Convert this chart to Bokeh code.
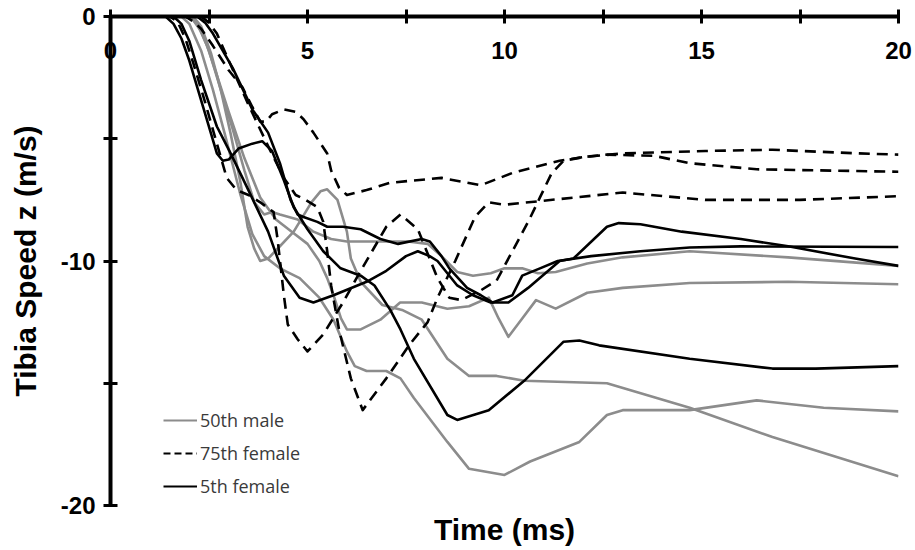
from bokeh.plotting import figure
from bokeh.models import Range1d, FixedTicker, Legend, LegendItem, Title
from bokeh.embed import file_html
from bokeh.resources import INLINE

# ---- 50th male (grey solid) ----
t_m50_a = [0, 1.9, 2.1, 2.3, 2.5, 2.8, 3.1, 3.4, 3.65, 3.9, 4.1, 4.3, 4.75, 5.15, 5.6, 6.0, 6.85, 7.55, 8.05, 8.4, 8.8, 9.2, 9.65, 10.0, 10.45, 10.85, 11.3, 12.1, 13.0, 14.7, 17.2, 20]
v_m50_a = [0, 0, -0.15, -0.6, -1.4, -3.0, -4.6, -6.3, -7.6, -8.1, -8.0, -8.1, -8.3, -8.8, -9.1, -9.2, -9.2, -9.2, -9.3, -9.8, -10.45, -10.6, -10.5, -10.3, -10.3, -10.5, -10.45, -10.1, -9.85, -9.6, -9.85, -10.2]

t_m50_b = [0, 2.0, 2.2, 2.45, 2.7, 3.0, 3.4, 3.8, 4.2, 4.6, 5.0, 5.3, 5.5, 5.66, 5.85, 6.0, 6.35, 6.85, 7.35, 7.9, 8.55, 9.1, 9.6, 9.85, 10.1, 10.45, 10.8, 11.3, 12.1, 13.0, 14.7, 17.2, 20]
v_m50_b = [0, 0, -0.3, -1.2, -2.4, -3.9, -5.8, -7.4, -8.3, -8.8, -9.3, -10.0, -10.7, -11.4, -12.35, -12.8, -12.8, -12.4, -11.7, -11.7, -11.95, -11.85, -11.5, -12.35, -13.1, -12.35, -11.6, -11.95, -11.3, -11.1, -10.9, -10.85, -10.95]

t_m50_c = [0, 1.8, 2.0, 2.3, 2.6, 2.9, 3.3, 3.6, 3.9, 4.3, 4.8, 5.3, 5.66, 6.0, 6.2, 6.5, 7.0, 7.36, 7.7, 8.55, 9.1, 10.0, 10.65, 11.9, 12.6, 13.0, 14.7, 16.4, 18.1, 20]
v_m50_c = [0, 0, -0.3, -1.4, -3.0, -4.8, -7.3, -8.9, -9.8, -10.3, -10.7, -11.5, -12.4, -13.7, -14.3, -14.5, -14.5, -14.8, -15.6, -17.4, -18.5, -18.75, -18.2, -17.4, -16.3, -16.1, -16.1, -15.7, -16.0, -16.15]

t_m50_d = [0, 2.1, 2.3, 2.55, 2.8, 3.05, 3.3, 3.48, 3.65, 3.8, 4.0, 4.24, 4.65, 5.1, 5.33, 5.5, 5.76, 6.0, 6.1, 6.35, 6.9, 7.4, 7.9, 8.55, 9.1, 9.8, 10.5, 12.6, 14.7, 16.8, 20]
v_m50_d = [0, 0, -0.4, -1.5, -3.0, -4.8, -6.8, -8.6, -9.5, -10.0, -9.9, -9.5, -8.8, -7.6, -7.15, -7.07, -7.5, -8.8, -9.9, -10.85, -11.8, -12.0, -12.4, -14.0, -14.7, -14.7, -14.9, -15.0, -16.0, -17.2, -18.8]

# ---- 75th female (black dashed) ----
t_f75_a = [0, 1.9, 2.1, 2.3, 2.6, 3.0, 3.35, 3.6, 3.8, 3.95, 4.1, 4.4, 4.7, 4.9, 5.15, 5.5, 5.6, 5.8, 6.0, 6.5, 7.1, 8.4, 9.4, 10.2, 11.4, 12.0, 13.0, 15.1, 16.8, 19.0, 20]
v_f75_a = [0, 0, -0.2, -0.5, -1.2, -2.2, -2.9, -3.7, -4.3, -4.3, -4.0, -3.8, -3.9, -4.2, -4.75, -5.6, -6.3, -7.0, -7.3, -7.1, -6.8, -6.6, -6.9, -6.4, -5.9, -5.75, -5.6, -5.5, -5.45, -5.6, -5.65]

t_f75_b = [0, 1.5, 1.7, 1.9, 2.1, 2.4, 2.7, 2.95, 3.2, 3.5, 3.8, 4.14, 4.24, 4.4, 4.5, 4.75, 5.0, 5.4, 5.9, 6.35, 7.0, 7.36, 7.8, 8.3, 8.6, 8.9, 9.4, 9.8, 10.2, 10.6, 10.9, 11.2, 11.5, 12.0, 12.6, 13.8, 14.7, 16.4, 20]
v_f75_b = [0, 0, -0.2, -0.9, -1.9, -3.5, -5.2, -6.6, -7.1, -7.3, -7.6, -8.0, -9.1, -11.4, -12.6, -13.2, -13.7, -13.0, -11.7, -10.4, -8.6, -8.1, -8.7, -10.7, -11.5, -11.6, -11.2, -10.8, -9.6, -8.4, -7.4, -6.4, -5.9, -5.75, -5.65, -5.7, -6.0, -6.25, -6.35]

t_f75_c = [0, 2.3, 2.5, 2.7, 3.0, 3.5, 4.0, 4.4, 4.7, 4.95, 5.25, 5.4, 5.5, 5.6, 5.8, 6.1, 6.4, 7.0, 7.6, 8.05, 8.3, 8.75, 9.25, 9.6, 10.0, 10.9, 13.0, 15.1, 17.5, 20]
v_f75_c = [0, 0, -0.25, -0.7, -1.8, -3.6, -5.3, -6.6, -7.3, -7.5, -7.8, -8.4, -9.6, -11.0, -12.8, -14.8, -16.1, -14.8, -13.4, -12.5, -11.5, -10.0, -8.2, -7.6, -7.7, -7.55, -7.2, -7.5, -7.5, -7.35]

# ---- 5th female (black solid) ----
t_f5_a = [0, 1.4, 1.6, 1.8, 2.0, 2.35, 2.7, 2.85, 3.0, 3.25, 3.6, 3.85, 4.1, 4.4, 4.65, 5.0, 5.4, 5.84, 6.35, 6.7, 7.1, 7.36, 7.7, 8.55, 8.8, 9.6, 10.5, 11.5, 11.9, 12.4, 14.7, 16.8, 17.9, 20]
v_f5_a = [0, 0, -0.3, -0.9, -1.8, -3.7, -5.6, -5.9, -5.85, -5.4, -5.2, -5.1, -5.5, -6.7, -7.8, -8.7, -9.6, -10.3, -10.6, -11.0, -12.0, -12.8, -14.0, -16.3, -16.5, -16.1, -14.9, -13.3, -13.25, -13.45, -14.0, -14.4, -14.4, -14.3]

t_f5_b = [0, 1.6, 1.8, 2.0, 2.3, 2.7, 3.05, 3.5, 4.0, 4.4, 4.8, 5.15, 5.66, 6.5, 7.0, 7.5, 7.8, 8.1, 8.3, 8.8, 9.2, 9.65, 10.1, 10.6, 11.4, 11.75, 12.6, 12.9, 13.45, 14.5, 16.0, 17.2, 18.9, 20]
v_f5_b = [0, 0, -0.3, -1.0, -2.6, -4.5, -5.6, -7.1, -8.8, -10.6, -11.5, -11.7, -11.4, -10.85, -10.4, -9.8, -9.6, -9.8, -10.0, -11.0, -11.4, -11.7, -11.7, -11.1, -10.0, -9.9, -8.6, -8.45, -8.5, -8.8, -9.1, -9.4, -9.9, -10.2]

t_f5_c = [0, 2.2, 2.4, 2.6, 3.1, 3.6, 4.0, 4.3, 4.57, 4.75, 4.9, 5.25, 5.5, 5.9, 6.35, 6.85, 7.3, 7.9, 8.1, 8.4, 8.6, 9.05, 9.4, 9.7, 10.2, 10.45, 10.9, 11.35, 12.2, 13.45, 14.7, 16.0, 20]
v_f5_c = [0, 0, -0.25, -0.7, -2.1, -3.8, -4.75, -6.0, -7.5, -8.1, -8.2, -8.4, -8.6, -8.6, -8.7, -9.1, -9.3, -9.1, -9.2, -9.8, -10.3, -11.1, -11.4, -11.7, -11.4, -10.6, -10.3, -10.0, -9.8, -9.6, -9.45, -9.4, -9.43]

# axis ticks and labels
x_ticks = [0, 2.5, 5, 7.5, 10, 12.5, 15, 17.5, 20]
x_tick_labels = {0: "0", 2.5: "", 5: "5", 7.5: "", 10: "10", 12.5: "", 15: "15", 17.5: "", 20: "20"}
y_ticks = [0, -5, -10, -15, -20]
y_tick_labels = {0: "0", -5: "", -10: "-10", -15: "", -20: "-20"}

series_labels = ["50th male", "75th female", "5th female"]

GREY = "#8c8c8c"
BLACK = "#000000"
LW = 2.6
DASH = "11 7"
NAN = float("nan")

p = figure(width=915, height=550, output_backend="svg", toolbar_location=None,
           x_range=Range1d(0, 20), y_range=Range1d(-20, 0), title=None,
           x_axis_location="above",
           min_border_left=110, min_border_right=17, min_border_top=16, min_border_bottom=42)
p.background_fill_color = "white"
p.border_fill_color = "white"
p.outline_line_color = None
p.grid.visible = False

male = [(t_m50_a, v_m50_a), (t_m50_b, v_m50_b), (t_m50_c, v_m50_c), (t_m50_d, v_m50_d)]
dashed = [(t_f75_a, v_f75_a), (t_f75_b, v_f75_b), (t_f75_c, v_f75_c)]
small = [(t_f5_a, v_f5_a), (t_f5_b, v_f5_b), (t_f5_c, v_f5_c)]

for t, v in male:
    p.line(t, v, line_color=GREY, line_width=LW, line_join="round")
for t, v in dashed:
    p.line(t, v, line_color=BLACK, line_width=LW, line_dash=DASH, line_join="round")
for t, v in small:
    p.line(t, v, line_color=BLACK, line_width=LW, line_join="round")

# legend key lines (nothing drawn in the plot area)
lg_m = p.line([NAN], [NAN], line_color=GREY, line_width=2)
lg_d = p.line([NAN], [NAN], line_color=BLACK, line_width=2, line_dash="7 4")
lg_s = p.line([NAN], [NAN], line_color=BLACK, line_width=2)

legend = Legend(items=[LegendItem(label=series_labels[0], renderers=[lg_m]),
                       LegendItem(label=series_labels[1], renderers=[lg_d]),
                       LegendItem(label=series_labels[2], renderers=[lg_s])],
                location=(53, 7), orientation="vertical",
                glyph_width=34, glyph_height=20, label_height=20, spacing=9,
                padding=0, margin=0, label_standoff=3,
                label_text_font="Open Sans", label_text_font_size="18px",
                label_text_color="#3a3a3a",
                background_fill_alpha=0, border_line_color=None)
p.add_layout(legend, "center")

# x axis along the top (y = 0), labels hang below the line
xa = p.xaxis[0]
xa.ticker = FixedTicker(ticks=x_ticks)
xa.major_label_overrides = x_tick_labels
xa.minor_tick_line_color = None
xa.axis_line_width = 4
xa.major_tick_line_width = 3
xa.major_tick_in = 7
xa.major_tick_out = 7
xa.major_label_standoff = -49
xa.major_label_text_font = "Liberation Sans"
xa.major_label_text_font_style = "bold"
xa.major_label_text_font_size = "24px"
xa.major_label_text_color = "black"

ya = p.yaxis[0]
ya.ticker = FixedTicker(ticks=y_ticks)
ya.major_label_overrides = y_tick_labels
ya.minor_tick_line_color = None
ya.axis_line_width = 4
ya.major_tick_line_width = 3
ya.major_tick_in = 7
ya.major_tick_out = 7
ya.major_label_standoff = 8
ya.major_label_text_font = "Liberation Sans"
ya.major_label_text_font_style = "bold"
ya.major_label_text_font_size = "24px"
ya.major_label_text_color = "black"
ya.axis_label = "Tibia Speed z (m/s)"
ya.axis_label_standoff = 16
ya.axis_label_text_font = "Liberation Sans"
ya.axis_label_text_font_style = "bold"
ya.axis_label_text_font_size = "30px"
ya.axis_label_text_color = "black"

p.add_layout(Title(text="Time (ms)", align="center", text_font="Liberation Sans",
                   text_font_style="bold", text_font_size="30px", text_color="black"), "below")

open("out.html", "w").write(file_html(p, INLINE))
